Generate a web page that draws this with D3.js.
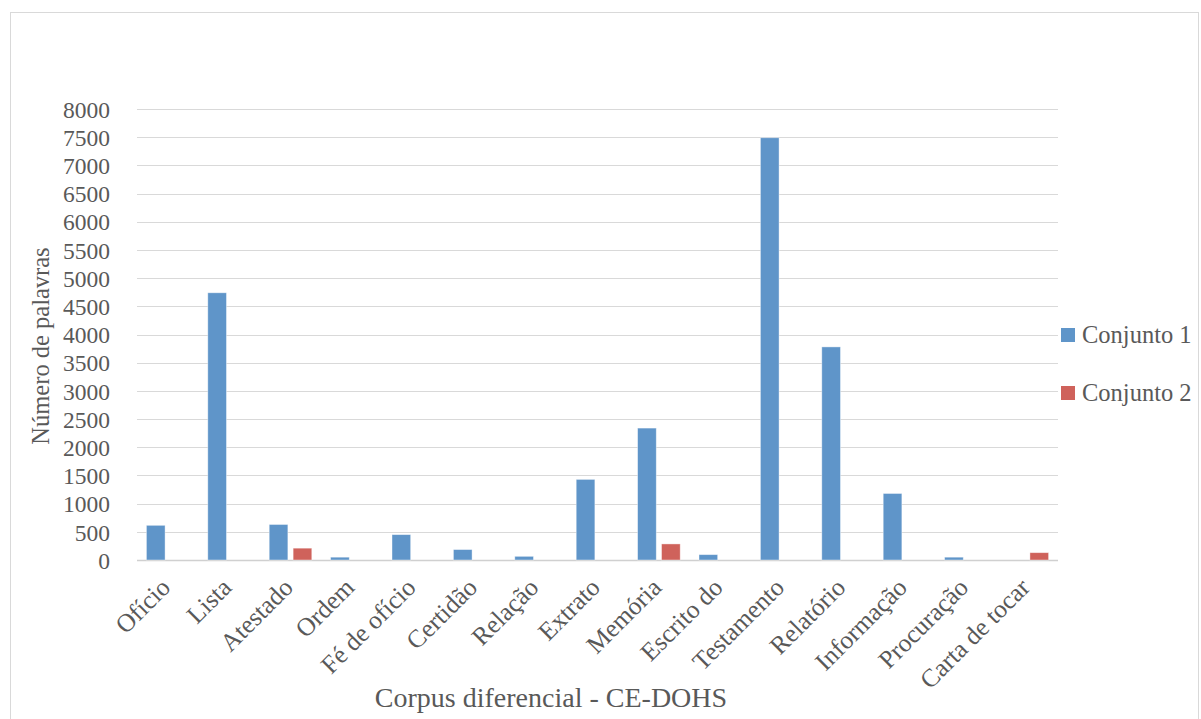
<!DOCTYPE html>
<html><head><meta charset="utf-8">
<script src="https://cdn.jsdelivr.net/npm/d3@7/dist/d3.min.js"></script>
<style>
html,body{margin:0;padding:0;background:#fff;}
svg text{font-family:"Liberation Serif","DejaVu Serif",serif !important;fill:#595959;}
</style></head>
<body>
<svg id="chart" width="1201" height="719"></svg>
<script>
const categories = ["Ofício","Lista","Atestado","Ordem","Fé de ofício","Certidão","Relação","Extrato","Memória","Escrito do","Testamento","Relatório","Informação","Procuração","Carta de tocar"];
const seriesNames = ["Conjunto 1","Conjunto 2"];
const conjunto1 = [615, 4740, 630, 50, 450, 185, 65, 1430, 2340, 95, 7490, 3780, 1180, 50, 0];
const conjunto2 = [0, 0, 210, 0, 0, 0, 0, 0, 285, 0, 0, 0, 0, 0, 130];
const yTicks = [0,500,1000,1500,2000,2500,3000,3500,4000,4500,5000,5500,6000,6500,7000,7500,8000];
const colors = ["#5f95c9","#cf625b"];

const svg = d3.select("#chart");
svg.append("rect").attr("x",10.5).attr("y",12.5).attr("width",1188).attr("height",720)
  .attr("fill","none").attr("stroke","#d9d9d9");

const m = {left:137, right:1058, top:109, bottom:560};
const x = d3.scaleBand().domain(categories).range([m.left,m.right]).paddingInner(0).paddingOuter(0);
const y = d3.scaleLinear().domain([0,8000]).range([m.bottom,m.top]);
const x1 = d3.scaleBand().domain(seriesNames).range([9.4, x.bandwidth()-9.4]).paddingInner(0.22);

// gridlines
svg.append("g").selectAll("line").data(yTicks).join("line")
  .attr("x1",m.left).attr("x2",m.right)
  .attr("y1",d=>Math.round(y(d))+0.5).attr("y2",d=>Math.round(y(d))+0.5)
  .attr("stroke",d=>d===0?"#d0d0d0":"#d9d9d9").attr("stroke-width",d=>d===0?1.5:1);

// y axis labels
const yAxis = d3.axisLeft(y).tickValues(yTicks).tickSize(0).tickPadding(0).tickFormat(d3.format("d"));
const ya = svg.append("g").attr("transform","translate(110,0)").call(yAxis);
ya.attr("font-size",null).attr("font-family",null);
ya.select(".domain").remove();
ya.selectAll("text").style("font-size","23.5px").attr("fill","#595959").attr("dy","0.35em");

// bars
const data = categories.map((c,i)=>({cat:c, vals:[conjunto1[i],conjunto2[i]]}));
const g = svg.append("g").selectAll("g").data(data).join("g")
  .attr("transform",d=>`translate(${x(d.cat)},0)`);
g.selectAll("rect").data(d=>d.vals.map((v,j)=>({v, s:seriesNames[j], j}))).join("rect")
  .filter(d=>d.v>0)
  .attr("x",d=>x1(d.s)).attr("width",x1.bandwidth())
  .attr("y",d=>y(d.v)).attr("height",d=>m.bottom-y(d.v))
  .attr("fill",d=>colors[d.j]).attr("stroke","#ffffff").attr("stroke-opacity",0.5).attr("stroke-width",0.8);

// x labels
svg.append("g").selectAll("text").data(categories).join("text")
  .attr("transform",d=>`translate(${x(d)+x.bandwidth()/2+4},${589}) rotate(-45)`)
  .attr("text-anchor","end").style("font-size","25.5px").text(d=>d);

// axis titles
svg.append("text").attr("x",551).attr("y",707).attr("text-anchor","middle")
  .style("font-size","28px").text("Corpus diferencial - CE-DOHS");
svg.append("text").attr("transform","translate(49,346) rotate(-90)").attr("text-anchor","middle")
  .style("font-size","24.5px").text("Número de palavras");

// legend
const lg = svg.append("g").selectAll("g").data(seriesNames).join("g")
  .attr("transform",(d,i)=>`translate(1061,${328+i*58})`);
lg.append("rect").attr("width",14).attr("height",14).attr("fill",(d,i)=>colors[i]);
lg.append("text").attr("x",21).attr("y",15).style("font-size","24.5px").text(d=>d);
</script>
</body></html>
